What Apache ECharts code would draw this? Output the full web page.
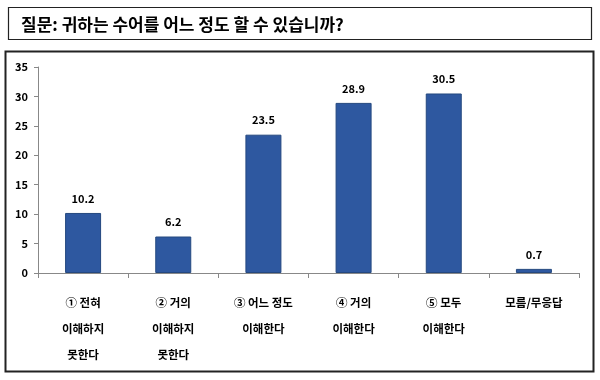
<!DOCTYPE html>
<html><head><meta charset="utf-8">
<script src="https://cdn.jsdelivr.net/npm/echarts@6/dist/echarts.min.js"></script>
<style>html,body{margin:0;padding:0;background:#fff}#c{width:600px;height:380px}</style>
</head><body><div id="c"></div>
<script>
const categories = ['① 전혀\n이해하지\n못한다', '② 거의\n이해하지\n못한다', '③ 어느 정도\n이해한다', '④ 거의\n이해한다', '⑤ 모두\n이해한다', '모름/무응답'];
const values = [10.2, 6.2, 23.5, 28.9, 30.5, 0.7];
const titleText = '질문: 귀하는 수어를 어느 정도 할 수 있습니까?';
const font = '"Noto Sans CJK KR", "Noto Sans", sans-serif';
const chart = echarts.init(document.getElementById('c'), null, {renderer: 'canvas'});
chart.setOption({
  animation: false,
  backgroundColor: '#fff',
  title: {
    text: titleText, left: 16, top: 11,
    textStyle: {fontFamily: font, fontSize: 17, fontWeight: 'bold', color: '#000'}
  },
  graphic: [
    {type: 'rect', shape: {x: 8.5, y: 7.5, width: 583, height: 32}, style: {fill: 'none', stroke: '#222', lineWidth: 1.2}},
    {type: 'rect', shape: {x: 5.5, y: 51.5, width: 588, height: 320}, style: {fill: 'none', stroke: '#222', lineWidth: 2}}
  ],
  grid: {left: 38, right: 21, top: 67, bottom: 107, containLabel: false},
  xAxis: {
    type: 'category', data: categories,
    axisLine: {lineStyle: {color: '#888'}},
    axisTick: {show: true, alignWithLabel: false, length: 5, lineStyle: {color: '#888'}},
    axisLabel: {interval: 0, margin: 17, lineHeight: 26, fontFamily: font, fontSize: 11.5, fontWeight: 'bold', color: '#000'}
  },
  yAxis: {
    type: 'value', min: 0, max: 35, interval: 5,
    axisLine: {show: true, lineStyle: {color: '#888'}},
    axisTick: {show: true, length: 4, lineStyle: {color: '#888'}},
    splitLine: {show: false},
    axisLabel: {margin: 10, fontFamily: font, fontSize: 11, fontWeight: 'bold', color: '#000'}
  },
  series: [{
    type: 'bar', data: values, barWidth: 36,
    itemStyle: {color: '#2E58A0', borderColor: '#24487F', borderWidth: 1},
    label: {show: true, position: 'top', distance: 9, fontFamily: font, fontSize: 11, fontWeight: 'bold', color: '#000', formatter: p => p.value.toFixed(1)}
  }]
});
</script></body></html>
